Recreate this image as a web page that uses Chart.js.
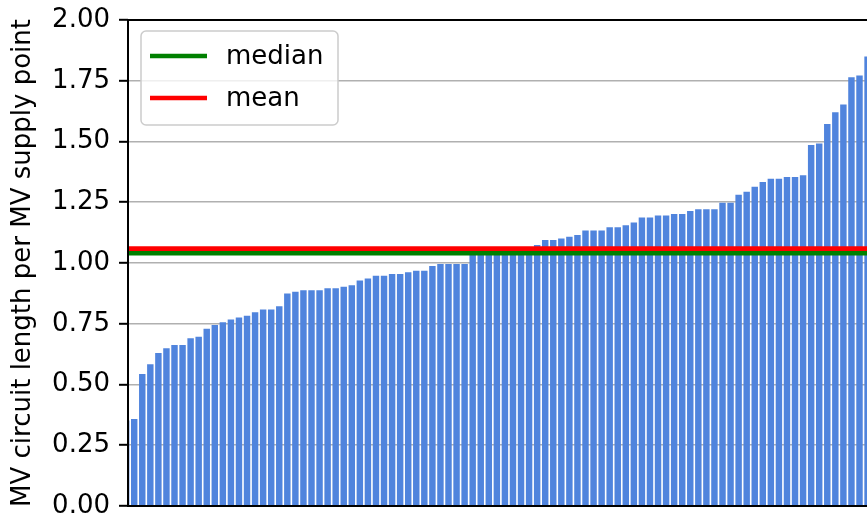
<!DOCTYPE html>
<html>
<head>
<meta charset="utf-8">
<script src="https://cdn.jsdelivr.net/npm/chart.js@4.4.1/dist/chart.umd.min.js"></script>
<style>
  html, body { margin: 0; padding: 0; background: #ffffff; overflow: hidden; }
  #c { display: block; }
</style>
</head>
<body>
<canvas id="c" width="867" height="519"></canvas>
<script>
// ---- data (sorted, one bar per MV supply area) ----
const barValues = [
  0.352, 0.358, 0.543, 0.583, 0.630, 0.649, 0.663, 0.663, 0.690, 0.697,
  0.729, 0.745, 0.756, 0.768, 0.776, 0.783, 0.797, 0.809, 0.809, 0.822,
  0.875, 0.882, 0.888, 0.888, 0.888, 0.896, 0.896, 0.902, 0.908, 0.928,
  0.936, 0.948, 0.948, 0.955, 0.955, 0.962, 0.968, 0.968, 0.988, 0.996,
  0.996, 0.996, 0.996, 1.035, 1.037, 1.039, 1.040, 1.044, 1.050, 1.056,
  1.062, 1.074, 1.095, 1.095, 1.101, 1.108, 1.115, 1.134, 1.134, 1.134,
  1.147, 1.147, 1.155, 1.167, 1.187, 1.187, 1.195, 1.195, 1.202, 1.202,
  1.214, 1.221, 1.221, 1.221, 1.248, 1.248, 1.281, 1.293, 1.314, 1.333,
  1.347, 1.347, 1.354, 1.354, 1.361, 1.486, 1.492, 1.572, 1.620, 1.652,
  1.764, 1.772, 1.850
];
const barPositions = barValues.map((_, i) => i);   // bar i sits at x = i
const medianValue = 1.040;
const meanValue = 1.059;
const lineLabels = ['median', 'mean'];
const lineValues = [medianValue, meanValue];
const lineColors = ['#008000', '#ff0000'];
const yTickValues = [0.00, 0.25, 0.50, 0.75, 1.00, 1.25, 1.50, 1.75, 2.00];
const xLimits = [0.23, 91.93];
const yLimits = [0, 2];
const yTitle = 'MV circuit length per MV supply point';

const FONT = 'DejaVu Sans';
const FSIZE = 26;

const barData = barPositions.map((x, i) => ({ x: x, y: barValues[i] }));

const lineDatasets = lineLabels.map((lab, i) => ({
  type: 'line',
  label: lab,
  data: [{ x: xLimits[0], y: lineValues[i] }, { x: xLimits[1], y: lineValues[i] }],
  borderColor: lineColors[i],
  backgroundColor: lineColors[i],
  borderWidth: 4.6,
  pointRadius: 0,
  pointHoverRadius: 0,
  fill: false,
  clip: 0,
  order: 2 - i
}));

// spines (top/left/bottom) drawn on top, like matplotlib
const framePlugin = {
  id: 'frame',
  afterDraw(chart) {
    const { ctx, chartArea: a } = chart;
    ctx.save();
    ctx.strokeStyle = '#000000';
    ctx.lineWidth = 2;
    ctx.beginPath();
    ctx.moveTo(a.right + 2, a.top);
    ctx.lineTo(a.left, a.top);
    ctx.lineTo(a.left, a.bottom);
    ctx.lineTo(a.right + 2, a.bottom);
    ctx.stroke();
    ctx.restore();
  }
};

// matplotlib-style legend box in the upper-left of the axes
const legendPlugin = {
  id: 'mplLegend',
  afterDraw(chart) {
    const { ctx, chartArea: a } = chart;
    const items = chart.data.datasets.filter(d => d.type === 'line');
    const bx = a.left + 13, by = a.top + 11, bw = 197, bh = 94, r = 5;
    ctx.save();
    ctx.beginPath();
    ctx.moveTo(bx + r, by);
    ctx.lineTo(bx + bw - r, by);
    ctx.arcTo(bx + bw, by, bx + bw, by + r, r);
    ctx.lineTo(bx + bw, by + bh - r);
    ctx.arcTo(bx + bw, by + bh, bx + bw - r, by + bh, r);
    ctx.lineTo(bx + r, by + bh);
    ctx.arcTo(bx, by + bh, bx, by + bh - r, r);
    ctx.lineTo(bx, by + r);
    ctx.arcTo(bx, by, bx + r, by, r);
    ctx.closePath();
    ctx.fillStyle = 'rgba(255,255,255,0.8)';
    ctx.fill();
    ctx.strokeStyle = '#cccccc';
    ctx.lineWidth = 1.5;
    ctx.stroke();
    ctx.font = FSIZE + 'px "' + FONT + '"';
    ctx.textBaseline = 'middle';
    ctx.textAlign = 'left';
    items.forEach((d, i) => {
      const cy = by + 25 + i * 42;
      ctx.strokeStyle = d.borderColor;
      ctx.lineWidth = d.borderWidth;
      ctx.beginPath();
      ctx.moveTo(bx + 9, cy);
      ctx.lineTo(bx + 66, cy);
      ctx.stroke();
      ctx.fillStyle = '#000000';
      ctx.fillText(d.label, bx + 85, cy + 1);
    });
    ctx.restore();
  }
};

new Chart(document.getElementById('c'), {
  type: 'bar',
  data: {
    datasets: [
      {
        type: 'bar',
        label: 'MV circuit length per MV supply point',
        data: barData,
        backgroundColor: '#5084dd',
        borderWidth: 0,
        barPercentage: 1.0,
        categoryPercentage: 0.8,
        clip: 0,
        order: 3
      },
      ...lineDatasets
    ]
  },
  options: {
    responsive: false,
    animation: false,
    events: [],
    layout: { padding: { top: 20, bottom: 13, left: 0, right: 0 } },
    plugins: {
      legend: { display: false },
      tooltip: { enabled: false },
      title: { display: false }
    },
    scales: {
      x: {
        type: 'linear',
        min: xLimits[0],
        max: xLimits[1],
        offset: false,
        z: 1,
        ticks: { display: false },
        grid: { display: false, drawTicks: false },
        border: { display: false }
      },
      y: {
        type: 'linear',
        min: yLimits[0],
        max: yLimits[1],
        z: 1,
        afterBuildTicks(scale) {
          scale.ticks = yTickValues.map(v => ({ value: v }));
        },
        afterFit(scale) {
          scale.width = 128;
          scale.paddingTop = 0;
          scale.paddingBottom = 0;
        },
        ticks: {
          font: { family: FONT, size: FSIZE },
          color: '#000000',
          padding: 9,
          callback: v => Number(v).toFixed(2)
        },
        grid: {
          color: '#b0b0b0',
          lineWidth: 1.6,
          drawTicks: true,
          tickLength: 9,
          tickColor: '#000000',
          tickWidth: 2
        },
        border: { display: false },
        title: {
          display: true,
          text: yTitle,
          color: '#000000',
          font: { family: FONT, size: FSIZE },
          padding: { top: 8, bottom: 0 }
        }
      }
    }
  },
  plugins: [framePlugin, legendPlugin]
});
</script>
</body>
</html>
